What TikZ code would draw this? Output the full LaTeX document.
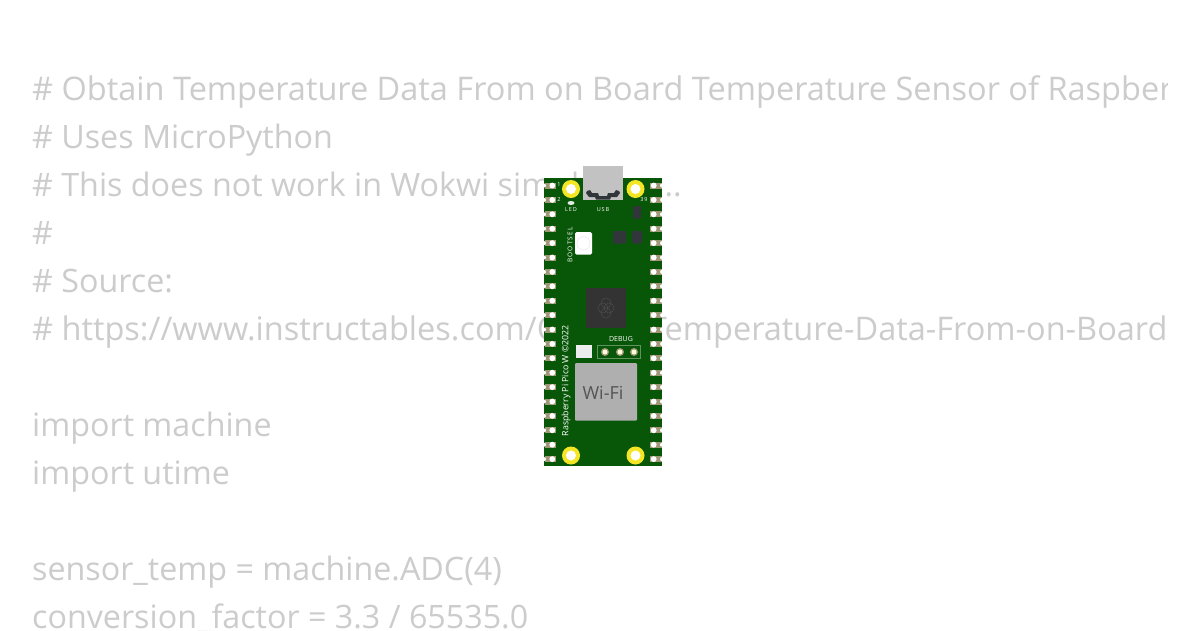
\documentclass[tikz,border=0pt]{standalone}
\usepackage{fontspec}
\setmainfont{Open Sans}
\tikzset{
codeline/.style={anchor=base west, inner sep=0pt, text=codegray, font=\fontsize{#1}{32}\selectfont},
codeline/.default=32.25,
silk/.style={inner sep=0pt, text=white, font=\fontsize{#1}{#1}\selectfont},
padtan/.style={fill=padcolor, draw=none},
hole/.style={fill=white, draw=none},
darkpart/.style={fill=partcolor, draw=none, rounded corners=1pt},
}
\definecolor{codegray}{HTML}{CCCCCC}
\definecolor{boardgreen}{HTML}{085708}
\definecolor{padcolor}{HTML}{A09878}
\definecolor{partcolor}{HTML}{31363A}
\definecolor{chipcolor}{HTML}{333333}
\definecolor{usbgray}{HTML}{C2C2C2}
\definecolor{wifigray}{HTML}{AFAFAF}
\definecolor{ringyellow}{HTML}{F5E625}
\begin{document}
\begin{tikzpicture}[x=1pt,y=-1pt]
\useasboundingbox (0,0) rectangle (1200,630);
\fill[white] (0,0) rectangle (1200,630);
% code behind the board
\begin{scope}
\clip (0,0) rectangle (1167,630);
\node[codeline=32.5] (line1) at (32,100) {\# Obtain Temperature Data From on Board Temperature Sensor of Raspberry Pi Pico};
\node[codeline] (line2) at (32,148) {\# Uses MicroPython};
\node[codeline] (line3) at (32,196) {\# This does not work in Wokwi simulation...};
\node[codeline] (line4) at (32,244) {\#};
\node[codeline] (line5) at (32,292) {\# Source:};
\node[codeline=32.5] (line6) at (32,340) {\# https://www.instructables.com/Obtain-Temperature-Data-From-on-Board-Temperature-Sensor};
\node[codeline] (line7) at (32,436) {import machine};
\node[codeline] (line8) at (32,484) {import utime};
\node[codeline] (line9) at (32,580) {sensor\_temp = machine.ADC(4)};
\node[codeline] (line10) at (32,628) {conversion\_factor = 3.3 / 65535.0};
\end{scope}
% board
\fill[boardgreen] (544,178) rectangle (662,466);
% pin pads
\foreach \y in {0,...,19} {
\fill[padtan] (545,185.5+14.4*\y-3) rectangle (556,185.5+14.4*\y+3);
\fill[padtan] (650,185.5+14.4*\y-3) rectangle (661.5,185.5+14.4*\y+3);
\fill[hole] (552.3,185.5+14.4*\y) circle (2.9);
\fill[hole] (653.7,185.5+14.4*\y) circle (2.9);
\fill[hole] (544,185.5+14.4*\y) circle (2);
\fill[hole] (662,185.5+14.4*\y) circle (2);
}
% mounting holes
\foreach \x/\y in {571/189,635.5/189,571/455.5,635.5/455.5} {
\fill[ringyellow] (\x,\y) circle (9);
\fill[hole] (\x,\y) circle (5);
}
% usb
\fill[usbgray] (583,166) rectangle (623,200);
\fill[partcolor] (587,191) -- (590,190) -- (592,193) -- (598,193) -- (599,196) -- (607,196) -- (608,193) -- (614,193) -- (616,190) -- (619,191) -- (620,193) -- (617,197) -- (611,197) -- (610,199.5) -- (596,199.5) -- (595,197) -- (589,197) -- (586,193) -- cycle;
\fill[white!88!boardgreen] (571,203) ellipse (3.5 and 2);
\node[silk=5.5] (pin1) at (559,185) {1};
\node[silk=5.5] (pin2) at (559,199.5) {2};
\node[silk=5.5] (pin39) at (644,199.5) {3\,9};
\node[silk=5.5] (led) at (571,210) {L\,E\,D};
\node[silk=5.5] (usb) at (603,210) {U\,S\,B};
\node[silk=6.5, rotate=90] (bootsel) at (570,245) {B\,O\,O\,T\,S\,E\,L};
% button
\fill[white, rounded corners=1.5pt] (575,232) rectangle (592,254.5);
\fill[white!92!black] (583.5,243.3) circle (7);
\fill[white] (583.5,243.3) circle (6.2);
% small parts
\fill[darkpart] (613,231) rectangle (626,243.5);
\fill[darkpart] (632,231) rectangle (642,243.5);
\fill[darkpart] (633,206) rectangle (641,218.5);
% rp2040
\fill[chipcolor] (586,288) rectangle (625.5,327.5);
\draw[white!12!chipcolor, line width=0.5pt] (603,308) circle (5) (609,308) circle (5) (606,303) circle (5) (606,313) circle (5);
% debug
\node[silk=7] (debug) at (621,338.5) {DEBUG};
\draw[white!35!boardgreen, line width=0.5pt] (597.5,345.5) rectangle (640.5,358);
\foreach \x in {605,620,634} {
\fill[padcolor] (\x,352) circle (4);
\fill[white!85!yellow] (\x,352) circle (2.5);
}
\fill[white!93!black] (575.5,345) rectangle (592,357.5);
% wifi
\fill[wifigray, rounded corners=1pt] (575,363) rectangle (637,420.5);
\node[inner sep=0pt, text=black!52!wifigray, font=\fontsize{18}{18}\selectfont] (wifi) at (603,392.5) {Wi-Fi};
\node[silk=8.8, rotate=90, anchor=west] (name) at (566,436.5) {Raspberry Pi Pico W ©2022};
\end{tikzpicture}
\end{document}
